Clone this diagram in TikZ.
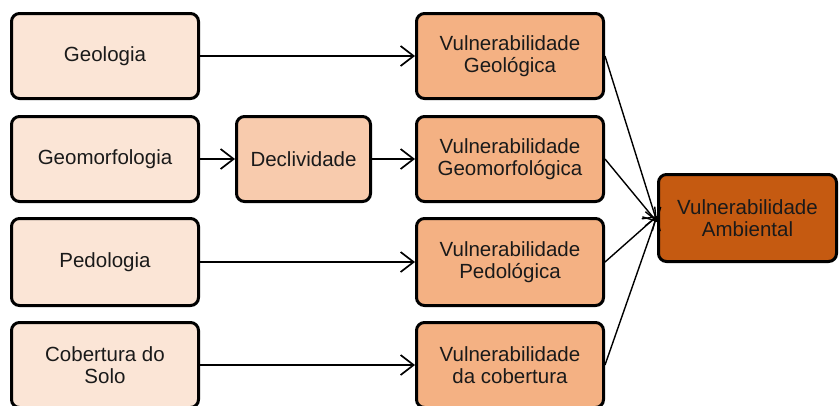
\documentclass[tikz,border=0pt]{standalone}
\usepackage{fontspec}
\setmainfont{Liberation Sans}
\usetikzlibrary{arrows.meta,shadows}
\definecolor{cLight}{HTML}{FBE5D6}
\definecolor{cMid}{HTML}{F8CBAD}
\definecolor{cVul}{HTML}{F4B183}
\definecolor{cAmb}{HTML}{C55A11}
\definecolor{cTxt}{HTML}{1A1A1A}
\begin{document}
\begin{tikzpicture}[x=1pt,y=-1pt,
  box/.style={draw=black, line width=3pt, rounded corners=8pt, align=center,
    inner sep=2pt, minimum height=85pt, text=cTxt,
    font=\fontsize{20.5}{22}\selectfont,
    drop shadow={opacity=0.25, shadow xshift=1.2pt, shadow yshift=-1.2pt}},
  inbox/.style={box, fill=cLight, minimum width=187pt},
  midbox/.style={box, fill=cMid, minimum width=134pt},
  vulbox/.style={box, fill=cVul, minimum width=187pt},
  ambbox/.style={box, fill=cAmb, minimum width=178pt, minimum height=87pt},
  conn/.style={line width=1.7pt, -{Straight Barb[length=13pt,width=20pt,line width=1.7pt]}},
  link/.style={line width=1.4pt, -{Straight Barb[length=12pt,width=16pt,line width=1.4pt]}}
]
\useasboundingbox (0,0) rectangle (840,405);
\node[inbox] (geol) at (105,56) {Geologia};
\node[inbox] (geom) at (105,159) {Geomorfologia};
\node[inbox, minimum height=87pt] (pedo) at (105,262) {Pedologia};
\node[inbox] (cob) at (105,365) {Cobertura do\\Solo};
\node[midbox] (decl) at (303.5,159) {Declividade};
\node[vulbox] (vgeo) at (510,56) {Vulnerabilidade\\Geológica};
\node[vulbox] (vgeom) at (510,159) {Vulnerabilidade\\Geomorfológica};
\node[vulbox, minimum height=87pt] (vped) at (510,262) {Vulnerabilidade\\Pedológica};
\node[vulbox] (vcob) at (510,365) {Vulnerabilidade\\da cobertura};
\node[ambbox] (amb) at (747.5,218) {Vulnerabilidade\\Ambiental};
\draw[conn] (geol) -- (vgeo);
\draw[conn] (geom) -- (decl);
\draw[conn] (decl) -- (vgeom);
\draw[conn] (pedo) -- (vped);
\draw[conn] (cob) -- (vcob);
\draw[link] (vgeo.east) -- ([yshift=-4pt]amb.west);
\draw[link] (vgeom.east) -- ([yshift=-4pt]amb.west);
\draw[link] (vped.east) -- ([yshift=2pt]amb.west);
\draw[link] (vcob.east) -- ([yshift=2pt]amb.west);
\end{tikzpicture}
\end{document}
